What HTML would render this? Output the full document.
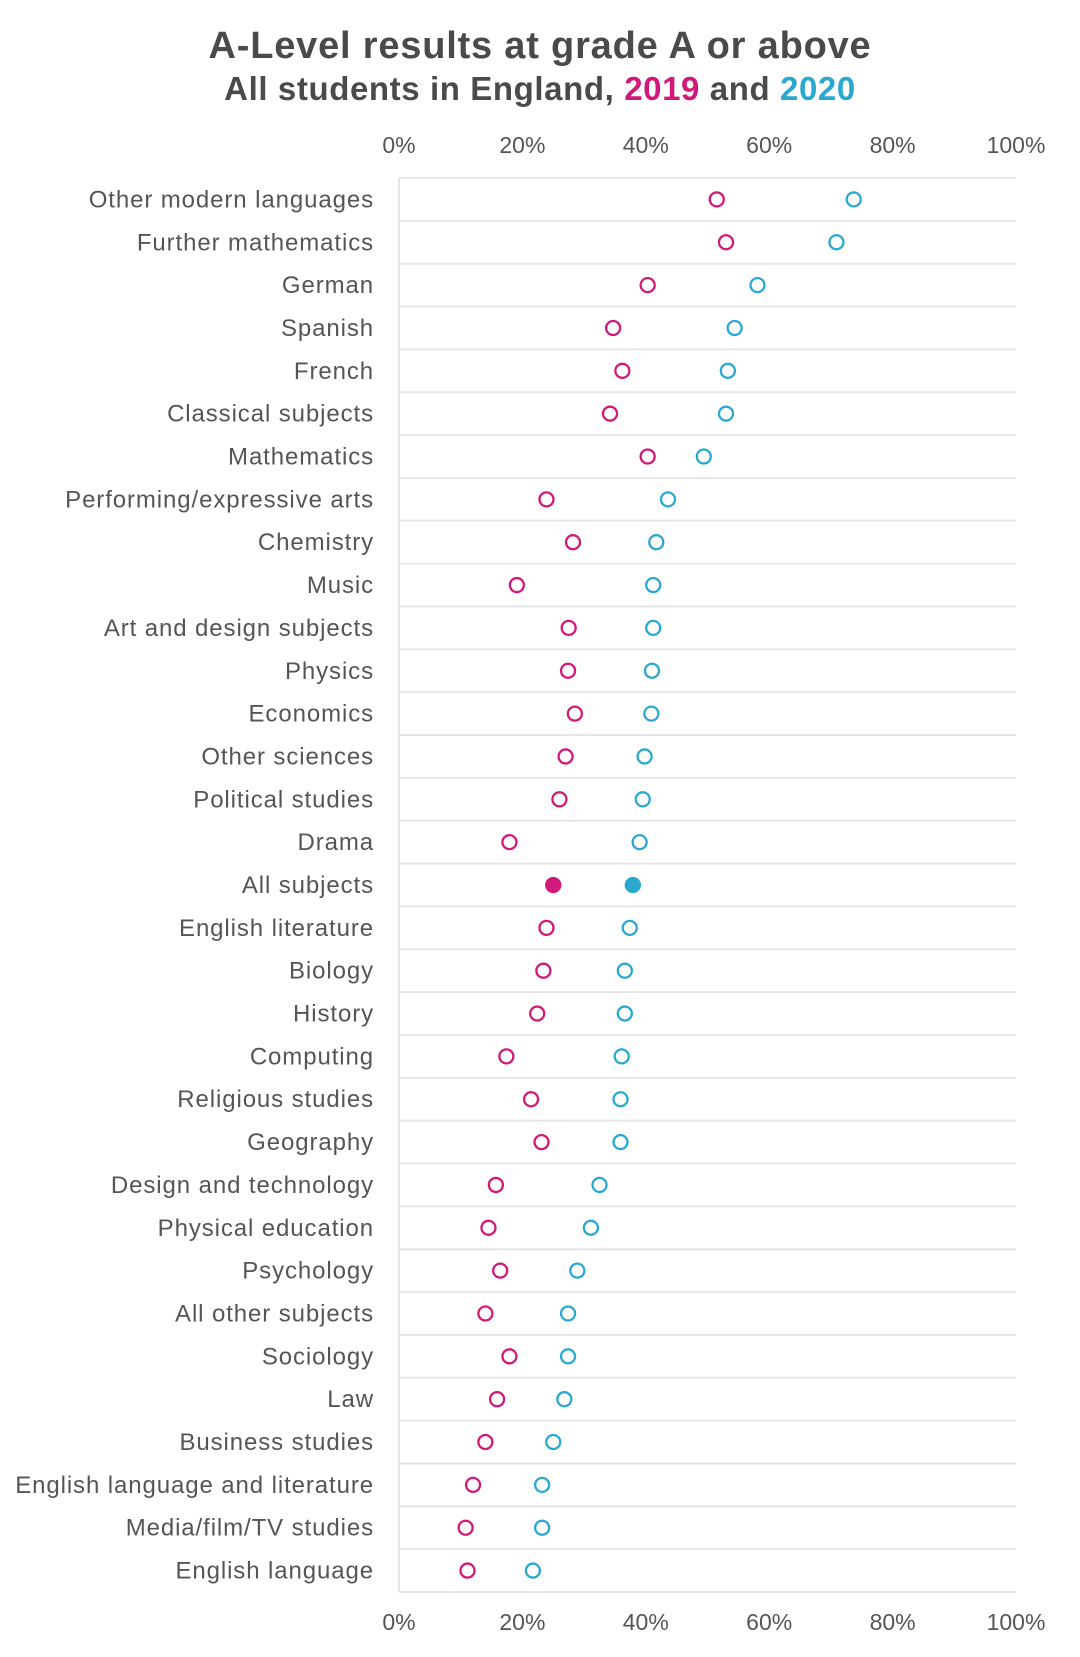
<!DOCTYPE html>
<html><head><meta charset="utf-8"><style>
body{margin:0;background:#fff;}
svg{display:block;font-family:"Liberation Sans",sans-serif;}
</style></head><body>
<svg id="chart" width="1080" height="1657" viewBox="0 0 1080 1657" xmlns="http://www.w3.org/2000/svg">
<text x="540" y="58" text-anchor="middle" font-size="38" font-weight="bold" letter-spacing="0.8" fill="#4a4a4a">A-Level results at grade A or above</text>
<text x="540" y="100" text-anchor="middle" font-size="33" font-weight="bold" letter-spacing="0.6" fill="#4a4a4a">All students in England, <tspan fill="#d0197a">2019</tspan> and <tspan fill="#2aa8d0">2020</tspan></text>
<g id="plot"></g>
</svg>
<script>
const categories=["Other modern languages","Further mathematics","German","Spanish","French","Classical subjects","Mathematics","Performing/expressive arts","Chemistry","Music","Art and design subjects","Physics","Economics","Other sciences","Political studies","Drama","All subjects","English literature","Biology","History","Computing","Religious studies","Geography","Design and technology","Physical education","Psychology","All other subjects","Sociology","Law","Business studies","English language and literature","Media/film/TV studies","English language"];
const values2019=[51.5,53.0,40.3,34.7,36.2,34.2,40.3,23.9,28.2,19.1,27.5,27.4,28.5,27.0,26.0,17.9,25.0,23.9,23.4,22.4,17.4,21.4,23.1,15.7,14.5,16.4,14.0,17.9,15.9,14.0,12.0,10.8,11.1];
const values2020=[73.7,70.9,58.1,54.4,53.3,53.0,49.4,43.6,41.7,41.2,41.2,41.0,40.9,39.8,39.5,39.0,37.9,37.4,36.6,36.6,36.1,35.9,35.9,32.5,31.1,28.9,27.4,27.4,26.8,25.0,23.2,23.2,21.7];
const tickLabels=["0%","20%","40%","60%","80%","100%"];
const tickValues=[0,20,40,60,80,100];
const highlight="All subjects";

const X0=399,X1=1016,TOP=178,BOT=1592;
const n=categories.length,pitch=(BOT-TOP)/n;
const xs=v=>X0+(X1-X0)*v/100;
const ys=i=>TOP+pitch*(i+0.5);
const g=document.getElementById('plot');
const NS="http://www.w3.org/2000/svg";
function mk(t,a){const e=document.createElementNS(NS,t);for(const k in a)e.setAttribute(k,a[k]);g.appendChild(e);return e;}
for(let i=0;i<=n;i++){
  const l=mk('line',{x1:X0,x2:X1,y1:TOP+pitch*i,y2:TOP+pitch*i,stroke:'#e6e6e6','stroke-width':2});
  
  
}
const ax=mk('line',{x1:X0,x2:X0,y1:TOP,y2:BOT,stroke:'#e6e6e6','stroke-width':2});


tickValues.forEach((v,i)=>{
  [153,1630].forEach(y=>{
    const t=mk('text',{x:xs(v),y:y,'text-anchor':'middle','font-size':23,fill:'#555'});
    t.textContent=tickLabels[i];
    
    
  });
});
categories.forEach((c,i)=>{
  const y=ys(i);
  const t=mk('text',{x:374,y:y+8,'text-anchor':'end','font-size':24,'letter-spacing':'0.9',fill:'#555'});
  t.textContent=c;
  
  
  const f=c===highlight;
  const a=mk('circle',{cx:xs(values2019[i]),cy:y,r:7,fill:f?'#d0197a':'none',stroke:'#d0197a','stroke-width':2.3});
  
  
  const b=mk('circle',{cx:xs(values2020[i]),cy:y,r:7,fill:f?'#2aa8d0':'none',stroke:'#2aa8d0','stroke-width':2.3});
  
  
});
</script>
</body></html>
